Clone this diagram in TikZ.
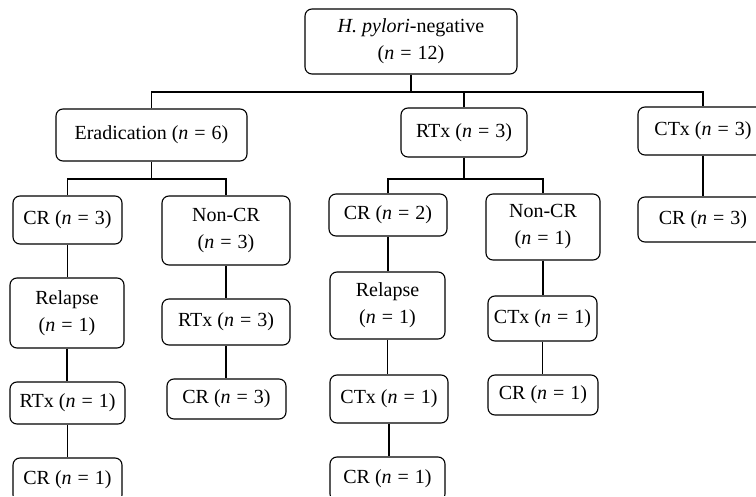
\documentclass[tikz,border=0pt]{standalone}
\usepackage{fontspec}
\setmainfont{Liberation Serif}
\begin{document}
\begin{tikzpicture}[x=1pt,y=-1pt,
  box/.style={draw, rounded corners=7pt, line width=1.1pt, align=center,
    inner sep=0pt, font=\fontsize{20}{27}\selectfont},
  link/.style={line width=1.1pt}]
\newcommand{\nn}{(\textit{n}\hspace{0.3em}=\hspace{0.3em}}
\useasboundingbox (0,0) rectangle (756,497);
\begin{scope}
\clip (0,0) rectangle (756,495);
\node[box, minimum width=212pt, minimum height=65pt] (top) at (411,41.5) {\textit{H. pylori}-negative\\\nn 12)};
\node[box, minimum width=191pt, minimum height=52pt] (erad) at (151.5,135) {Eradication \nn 6)};
\node[box, minimum width=126pt, minimum height=49pt] (rtx) at (464,132.5) {RTx \nn 3)};
\node[box, minimum width=130pt, minimum height=48pt] (ctx) at (703,131) {CTx \nn 3)};
\node[box, minimum width=109pt, minimum height=48pt] (cra) at (67.5,220) {CR \nn 3)};
\node[box, minimum width=128pt, minimum height=69pt] (ncra) at (226,230.5) {Non-CR\\\nn 3)};
\node[box, minimum width=118pt, minimum height=42pt] (crb) at (388,215) {CR \nn 2)};
\node[box, minimum width=114pt, minimum height=66pt] (ncrb) at (543,227) {Non-CR\\\nn 1)};
\node[box, minimum width=130pt, minimum height=45pt] (crc) at (703,219.5) {CR \nn 3)};
\node[box, minimum width=114pt, minimum height=70pt] (rela) at (67,313) {Relapse\\\nn 1)};
\node[box, minimum width=115pt, minimum height=42pt] (rtxa) at (67.5,403) {RTx \nn 1)};
\node[box, minimum width=109pt, minimum height=44pt] (crd) at (67.5,480) {CR \nn 1)};
\node[box, minimum width=128pt, minimum height=46pt] (rtxb) at (226,322) {RTx \nn 3)};
\node[box, minimum width=119pt, minimum height=40pt] (cre) at (226.5,399) {CR \nn 3)};
\node[box, minimum width=115pt, minimum height=67pt] (relb) at (387.5,305.5) {Relapse\\\nn 1)};
\node[box, minimum width=118pt, minimum height=48pt] (ctxa) at (389,399) {CTx \nn 1)};
\node[box, minimum width=115pt, minimum height=44pt] (crf) at (387.5,479) {CR \nn 1)};
\node[box, minimum width=109pt, minimum height=45pt] (ctxb) at (542.5,318.5) {CTx \nn 1)};
\node[box, minimum width=110pt, minimum height=40pt] (crg) at (543,395) {CR \nn 1)};
\coordinate (b1) at (411,92);
\coordinate (b2) at (151.5,179);
\coordinate (b3) at (464,179);
\draw[link] (top.south) -- (b1);
\draw[link] (erad.north) |- (b1) -| (ctx.north);
\draw[link] (rtx.north) -- (rtx.north |- b1);
\draw[link] (erad.south) -- (b2);
\draw[link] (cra.north) |- (b2) -| (ncra.north);
\draw[link] (rtx.south) -- (b3);
\draw[link] (crb.north) |- (b3) -| (ncrb.north);
\draw[link] (ctx.south) -- (crc.north);
\draw[link] (cra.south) -- (cra.south |- rela.north);
\draw[link] (rela.south) -- (rela.south |- rtxa.north);
\draw[link] (rtxa.south) -- (rtxa.south |- crd.north);
\draw[link] (ncra.south) -- (rtxb.north);
\draw[link] (rtxb.south) -- (rtxb.south |- cre.north);
\draw[link] (crb.south) -- (crb.south |- relb.north);
\draw[link] (relb.south) -- (relb.south |- ctxa.north);
\draw[link] (ctxa.south) -- (ctxa.south |- crf.north);
\draw[link] (ncrb.south) -- (ncrb.south |- ctxb.north);
\draw[link] (ctxb.south) -- (ctxb.south |- crg.north);
\end{scope}
\end{tikzpicture}
\end{document}
